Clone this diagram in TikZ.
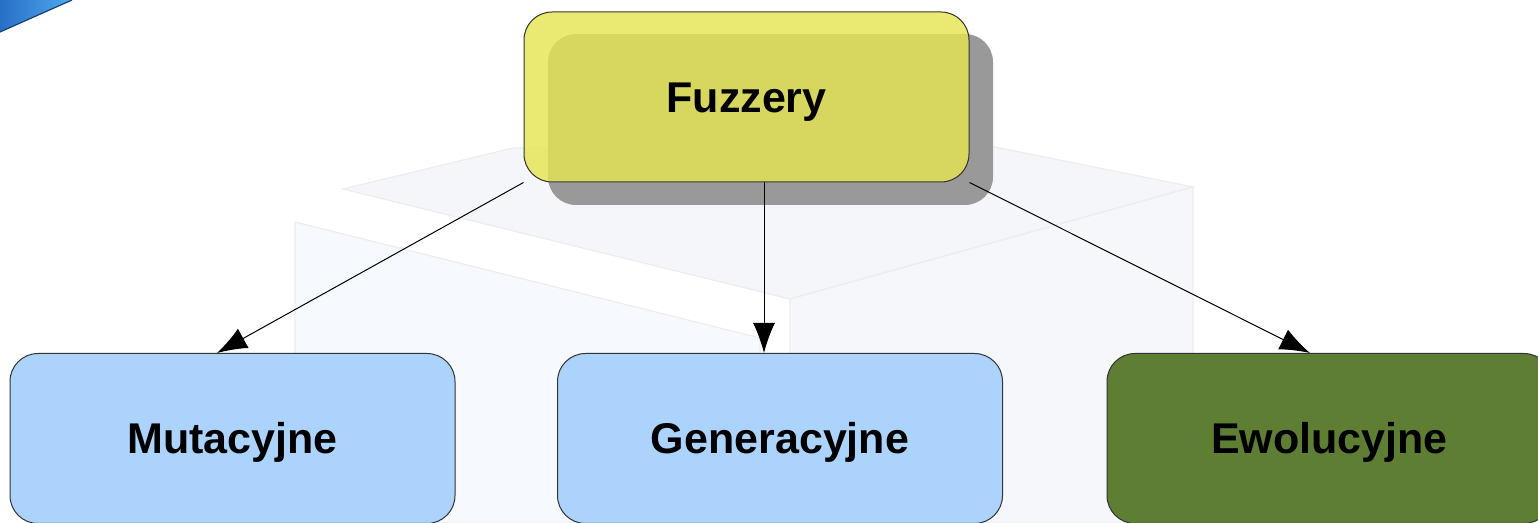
\documentclass[tikz,border=0pt]{standalone}
\usepackage{fontspec}
\setmainfont{Liberation Sans}
\usetikzlibrary{arrows.meta,shadows,calc}
\definecolor{boxblue}{RGB}{171,211,251}
\definecolor{boxgreen}{RGB}{94,126,52}
\definecolor{boxyellow}{RGB}{230,229,81}
\definecolor{shadowgray}{RGB}{153,153,153}
\definecolor{wmface}{RGB}{245,246,250}
\definecolor{wmpanel}{RGB}{246,249,253}
\definecolor{wmline}{RGB}{236,237,240}
\definecolor{cornerA}{RGB}{40,110,200}
\definecolor{cornerB}{RGB}{80,170,235}
\tikzset{
  cat/.style={draw=black!80, line width=0.5pt, rounded corners=14pt,
    minimum width=222.5pt, minimum height=85pt, inner sep=0pt,
    text height=15.4pt, text depth=0pt,
    font=\fontsize{21.5}{26}\selectfont\bfseries, text=black},
  topcat/.style={cat, fill=boxyellow, fill opacity=0.81, text opacity=1},
  arr/.style={-{Latex[length=15pt,width=11pt]}, line width=0.5pt, draw=black}
}
\begin{document}
\begin{tikzpicture}[x=0.5pt,y=-0.5pt]
\clip (0,0) rectangle (1538,523);
\fill[white] (0,0) rectangle (1538,523);
% faint watermark box
\filldraw[fill=wmface, draw=wmline, line width=0.6pt] (343,189) -- (513,148) -- (995,147) -- (1193,187) -- (790,299) -- cycle;
\filldraw[fill=wmface!60!wmpanel, draw=wmline, line width=0.6pt] (790,299) -- (1193,187) -- (1193,523) -- (790,523) -- cycle;
\filldraw[fill=wmpanel, draw=wmline, line width=0.6pt] (295,222) -- (760,338) -- (760,523) -- (295,523) -- cycle;
% top-left corner decoration
\shade[left color=cornerA, right color=cornerB] (0,0) -- (72,0) -- (0,32) -- cycle;
\draw[cornerA!60!black, line width=0.6pt] (72,0) -- (0,32);
% shadow of top node
\fill[shadowgray, rounded corners=14pt] (548,34) rectangle (993,205);
% nodes
\node[topcat] (fz) at (746.5,97) {Fuzzery};
\node[cat, fill=boxblue] (mut) at (232.5,438.5) {Mutacyjne};
\node[cat, fill=boxblue] (gen) at (780,438.5) {Generacyjne};
\node[cat, fill=boxgreen] (ewo) at (1329.5,438.5) {Ewolucyjne};
% connectors
\draw[arr] (fz.south west) -- ([xshift=-7.75pt]mut.north);
\draw[arr] ([xshift=8.75pt]fz.south) -- ([xshift=-8pt]gen.north);
\draw[arr] (fz.south east) -- ([xshift=-9.75pt]ewo.north);
\end{tikzpicture}
\end{document}
